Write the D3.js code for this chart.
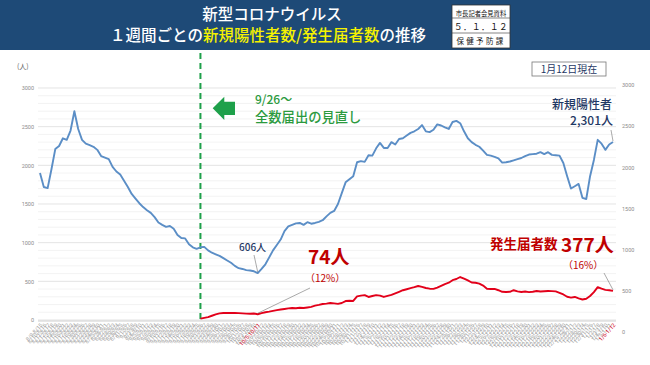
<!DOCTYPE html>
<html><head><meta charset="utf-8">
<script src="https://cdn.jsdelivr.net/npm/d3@7/dist/d3.min.js"></script>
<style>
html,body{margin:0;padding:0;background:#fff;}
svg{display:block;font-family:"Noto Sans CJK JP","Noto Sans",sans-serif;}
</style></head>
<body>
<svg id="chart" width="650" height="365"></svg>
<script>
// ---- data ----
const startDate = "2022-08-15"; // end date of first 7-day window
const newPositive = [
1900,1720,1705,1950,2210,2250,2350,2330,2450,2700,
2470,2330,2280,2260,2240,2200,2120,2100,2080,1980,
1920,1880,1800,1720,1630,1570,1510,1460,1420,1385,
1330,1260,1230,1205,1215,1180,1100,1060,1055,980,
940,920,940,945,900,870,850,830,800,770,
740,700,670,660,645,640,630,606,660,720,
810,900,970,1040,1150,1210,1230,1250,1255,1230,
1265,1245,1255,1270,1290,1340,1385,1410,1500,1640,
1780,1820,1860,2040,2055,2045,2130,2125,2220,2290,
2225,2225,2300,2270,2340,2350,2385,2420,2440,2470,
2520,2440,2430,2460,2530,2515,2490,2470,2560,2575,
2545,2440,2350,2300,2265,2240,2190,2135,2125,2110,
2090,2035,2040,2050,2065,2080,2095,2120,2140,2145,
2150,2170,2145,2170,2135,2130,2125,2030,1860,1700,
1730,1760,1580,1565,1860,2070,2330,2280,2200,2270,
2301];
const redStartIndex = 42; // 9/20-9/26
const notified = [
18,28,38,55,72,86,90,92,90,92,
89,85,82,80,84,74,88,100,108,118,
128,135,142,150,155,152,158,155,162,170,
185,195,207,212,220,215,208,220,245,248,
246,305,315,322,298,310,322,315,298,312,
325,345,365,385,398,412,425,440,428,414,
405,402,420,442,465,482,515,530,556,535,
512,485,482,470,445,405,400,402,385,365,
362,365,385,370,362,368,360,365,375,368,
372,375,374,370,352,330,300,290,298,280,
265,275,310,360,425,405,390,385,377];
const leftTicks = [0,500,1000,1500,2000,2500,3000];
const rightTicks = [0,500,1000,1500,2000,2500,3000];
const highlightLabels = ["10/5-10/11","1/6-1/12"];

// category labels: 7-day windows
const endDates = d3.timeDay.range(new Date(2022,7,15), new Date(2023,0,13));
const fmt = d => (d.getMonth()+1)+"/"+d.getDate();
const categories = endDates.map(d => fmt(d3.timeDay.offset(d,-6))+"-"+fmt(d));

// ---- drawing ----
const svg = d3.select("#chart");

// header
svg.append("rect").attr("x",0).attr("y",0).attr("width",650).attr("height",50).attr("fill","#1e4a77");
svg.append("text").attr("x",272).attr("y",20).attr("text-anchor","middle")
  .attr("fill","#fff").attr("font-size",15.5).attr("font-weight",500).text("新型コロナウイルス");
const t2 = svg.append("text").attr("x",268).attr("y",41).attr("text-anchor","middle")
  .attr("font-size",15.5).attr("font-weight",500);
t2.append("tspan").attr("fill","#fff").text("１週間ごとの");
t2.append("tspan").attr("fill","#f5f200").text("新規陽性者数/発生届者数");
t2.append("tspan").attr("fill","#fff").text("の推移");

// top-right box
const bx = svg.append("g");
bx.append("rect").attr("x",452).attr("y",5).attr("width",58).attr("height",43).attr("fill","#fff").attr("stroke","#333").attr("stroke-width",0.8);
bx.append("line").attr("x1",452).attr("x2",510).attr("y1",18).attr("y2",18).attr("stroke","#333").attr("stroke-width",0.6);
bx.append("line").attr("x1",452).attr("x2",510).attr("y1",33).attr("y2",33).attr("stroke","#333").attr("stroke-width",0.6);
bx.append("text").attr("x",481).attr("y",15.5).attr("text-anchor","middle").attr("font-size",6.3).attr("fill","#111").text("市長記者会見資料");
bx.append("text").attr("x",481).attr("y",29.5).attr("text-anchor","middle").attr("font-size",8.5).attr("fill","#111").attr("letter-spacing",0.5).text("５．１．１２");
bx.append("text").attr("x",481).attr("y",44).attr("text-anchor","middle").attr("font-size",7.5).attr("fill","#111").attr("letter-spacing",2.3).text("保健予防課");

// scales
const x = d3.scalePoint().domain(categories).range([40,613]);
const y = d3.scaleLinear().domain([0,3000]).range([320,88]);
const yR = d3.scaleLinear().domain([0,3000]).range([332,85]);

// gridlines
const gridVals = d3.range(0,3001,100);
svg.append("g").selectAll("line").data(gridVals).join("line")
  .attr("x1",38).attr("x2",616)
  .attr("y1",d=>y(d)).attr("y2",d=>y(d))
  .attr("stroke",d=> d%500===0 ? "#d9d9d9" : "#eeeeee")
  .attr("stroke-width",0.7);

// left axis
const gl = svg.append("g").attr("transform","translate(34,0)")
  .call(d3.axisLeft(y).tickValues(leftTicks).tickSize(0).tickPadding(0).tickFormat(d3.format("d")));
gl.select(".domain").remove();
gl.selectAll("text").attr("font-size",5.5).attr("fill","#8c8c8c").attr("font-family","Liberation Sans Narrow, Roboto, sans-serif");

// right axis
const gr = svg.append("g").attr("transform","translate(622,0)")
  .call(d3.axisRight(yR).tickValues(rightTicks).tickSize(0).tickPadding(0).tickFormat(d3.format("d")));
gr.select(".domain").remove();
gr.selectAll("text").attr("font-size",5.5).attr("fill","#8c8c8c").attr("font-family","Liberation Sans Narrow, Roboto, sans-serif");

// unit
svg.append("text").attr("x",17).attr("y",69).attr("font-size",7).attr("fill","#666").text("(人)");

// x axis
const gx = svg.append("g").attr("transform","translate(0,321)")
  .call(d3.axisBottom(x).tickSize(0).tickPadding(0));
gx.select(".domain").attr("stroke","#d0d0d0").attr("d","M38,0H616");
gx.selectAll("text")
  .attr("font-size",5.6)
  .attr("font-family","Liberation Sans Narrow, Roboto, sans-serif")
  .attr("fill",d=> highlightLabels.includes(d) ? "#d0021b" : "#a6a6a6")
  .attr("text-anchor","end")
  .attr("dy","0.35em")
  .attr("transform","translate(1,3) rotate(-48)");

// green dashed line
svg.append("line").attr("x1",x(categories[redStartIndex])).attr("x2",x(categories[redStartIndex]))
  .attr("y1",53).attr("y2",320).attr("stroke","#1ea04a").attr("stroke-width",2).attr("stroke-dasharray","6,4");

// arrow
svg.append("path").attr("d","M212.7,108.3 L224.3,96.7 L224.3,101.7 L235,101.7 L235,115 L224.3,115 L224.3,120 Z").attr("fill","#1ea04a");
svg.append("text").attr("x",255).attr("y",104).attr("font-size",12).attr("font-weight",500).attr("fill","#2b9a3e").text("9/26～");
svg.append("text").attr("x",255).attr("y",121.5).attr("font-size",13.3).attr("font-weight",500).attr("fill","#2b9a3e").text("全数届出の見直し");

// lines
const line = d3.line().x(d=>x(d.c)).y(d=>y(d.v));
const blueData = newPositive.map((v,i)=>({c:categories[i],v}));
const redData = notified.map((v,i)=>({c:categories[i+redStartIndex],v}));
svg.append("path").datum(blueData).attr("d",line).attr("fill","none").attr("stroke","#5b8ec6").attr("stroke-width",1.9).attr("stroke-linejoin","round");
svg.append("path").datum(redData).attr("d",line).attr("fill","none").attr("stroke","#e2001a").attr("stroke-width",1.9).attr("stroke-linejoin","round");

// "1月12日現在" box
svg.append("rect").attr("x",532).attr("y",62).attr("width",74).attr("height",14).attr("fill","#fff").attr("stroke","#777").attr("stroke-width",0.8);
svg.append("text").attr("x",569).attr("y",73).attr("text-anchor","middle").attr("font-size",10).attr("fill","#1f3864").text("1月12日現在");

// annotations
const lastI = categories.length-1;
const leader = (x1,y1,x2,y2)=>svg.append("line").attr("x1",x1).attr("y1",y1).attr("x2",x2).attr("y2",y2).attr("stroke","#707070").attr("stroke-width",0.6);

svg.append("text").attr("x",612).attr("y",109).attr("text-anchor","end").attr("font-size",12).attr("font-weight",500).attr("fill","#1f3864").text("新規陽性者");
svg.append("text").attr("x",613).attr("y",125).attr("text-anchor","end").attr("font-size",12).attr("font-weight",500).attr("fill","#1f3864").text("2,301人");
leader(611,130,x(categories[lastI]),y(newPositive[lastI])-1);

const minI = 57;
svg.append("text").attr("x",239).attr("y",251).attr("font-size",10).attr("font-weight",500).attr("fill","#1f3864").text("606人");
leader(254,255,x(categories[minI]),y(newPositive[minI])-1);

svg.append("text").attr("x",308).attr("y",264).attr("font-size",19).attr("font-weight",700).attr("fill","#c00000").text("74人");
svg.append("text").attr("x",305).attr("y",282).attr("font-size",10).attr("fill","#c00000").text("（12%）");
leader(310,288,x(categories[minI]),y(notified[minI-redStartIndex])-1);

svg.append("text").attr("x",490).attr("y",249).attr("font-size",13.5).attr("font-weight",700).attr("fill","#c00000").text("発生届者数");
svg.append("text").attr("x",561).attr("y",252).attr("font-size",19).attr("font-weight",700).attr("fill","#c00000").text("377人");
svg.append("text").attr("x",563).attr("y",269).attr("font-size",10).attr("fill","#c00000").text("（16%）");
leader(604,273,x(categories[lastI]),y(notified[notified.length-1])-1);
</script>
</body></html>
